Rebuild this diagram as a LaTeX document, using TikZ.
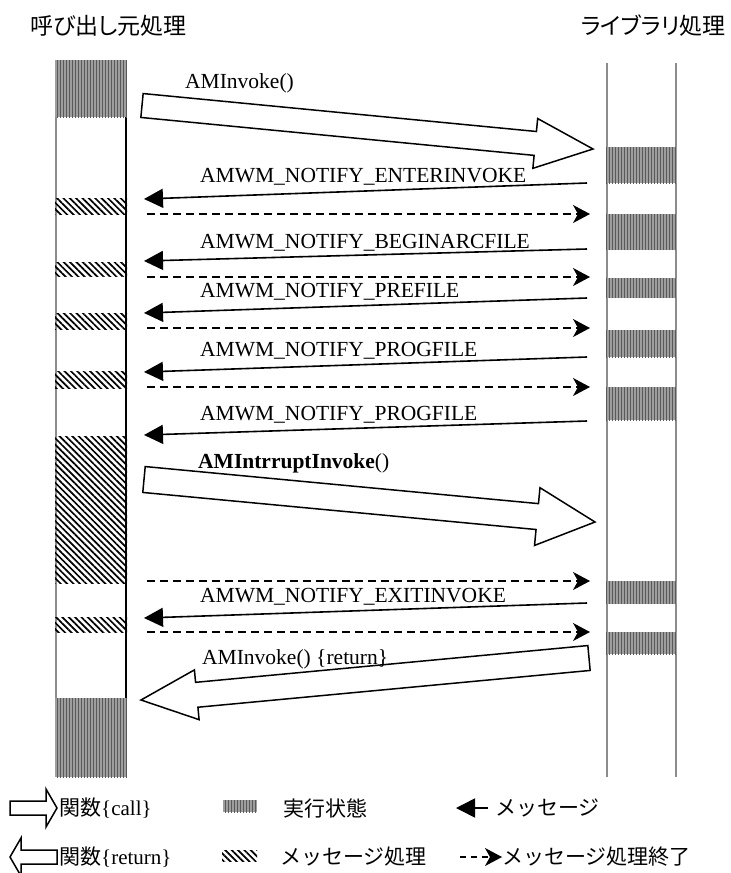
\documentclass[tikz,border=0pt]{standalone}
\usepackage{fontspec}
\setmainfont{Liberation Serif}
\newfontfamily\jpfont{Noto Sans CJK JP}
\newfontfamily\jphead{Noto Sans CJK JP}[RawFeature=+palt]
\usetikzlibrary{arrows.meta,calc,patterns.meta}

\newcommand{\fatarrow}[5]{%
  \coordinate (hb) at ($(#2)!#5!(#1)$);
  \draw[fat] ($(#1)!#3!90:(#2)$) -- ($(hb)!#3!90:(#2)$) -- ($(hb)!#4!90:(#2)$)
    -- (#2) -- ($(hb)!#4!-90:(#2)$) -- ($(hb)!#3!-90:(#2)$)
    -- ($(#1)!#3!-90:(#2)$) -- cycle;
}

\begin{document}
\begin{tikzpicture}[
x=1pt,y=-1pt,
lifeline/.style={draw=black!45,line width=1.2pt},
execbox/.style={fill=black!38,postaction={pattern={Lines[angle=90,distance=3pt,line width=0.8pt]},pattern color=black!65}},
msgbox/.style={pattern={Lines[angle=-45,distance=4.5pt,line width=1.7pt]}},
msg/.style={line width=1.6pt,-{Triangle[length=19pt,width=19pt]}},
done/.style={line width=1.3pt,dash pattern=on 8pt off 5pt,-{Stealth[length=17pt,width=18pt,inset=5pt]}},
fat/.style={draw,line width=1.5pt,fill=white,line join=miter},
txt/.style={font=\fontsize{21.5}{24}\selectfont,inner sep=0pt},
jp/.style={font=\jpfont\fontsize{21}{24}\selectfont,inner sep=0pt},
head/.style={font=\jphead\fontsize{23}{26}\selectfont,inner sep=0pt}
]
\useasboundingbox (0,0) rectangle (731,873);

\node[head,anchor=west] (hcaller) at (30,26) {呼び出し元処理};
\node[head,anchor=east] (hlib) at (726,26) {ライブラリ処理};

% lifelines
\draw[lifeline] (56,60) -- (56,777);
\draw[line width=1.2pt] (126,60) -- (126,777);
\draw[lifeline] (607,63) -- (607,777);
\draw[lifeline] (676,63) -- (676,777);

\foreach \ya/\yb in {60/117,698/777}
  \fill[execbox] (55,\ya) rectangle (127,\yb);
\foreach \ya/\yb in {147/183,214/250,278/298,330/357,387/420,581/604,632/654}
  \fill[execbox] (606,\ya) rectangle (677,\yb);
\foreach \ya/\yb in {198/214,262/276,313/329,371/388,436/583,617/632}
  \fill[msgbox] (55,\ya) rectangle (127,\yb);

% messages
\foreach \lbl/\ya/\yb [count=\i] in {ENTERINVOKE/183/199,BEGINARCFILE/249/261,PREFILE/298/313,PROGFILE/357/372,PROGFILE/421/435,EXITINVOKE/603/618}{
  \coordinate (m\i) at (587,\ya);
  \coordinate (n\i) at (144,\yb);
  \draw[msg] (m\i) -- (n\i);
  \node[txt,anchor=base west] (l\i) at (200,\ya-1) {AMWM\_NOTIFY\_\lbl};
}
\foreach \y [count=\i] in {214,277,328,387,581,632}{
  \coordinate (d\i) at (147,\y);
  \coordinate (e\i) at (590,\y);
  \draw[done] (d\i) -- (e\i);
}

% calls
\coordinate (c1) at (142,105.5);
\coordinate (c1t) at (593,149);
\fatarrow{c1}{c1t}{12pt}{25pt}{58pt}
\node[txt,anchor=base west] (lc1) at (185,88) {AMInvoke()};

\coordinate (c2) at (144,479.5);
\coordinate (c2t) at (595,522);
\fatarrow{c2}{c2t}{13pt}{29pt}{58pt}
\node[txt,anchor=base west] (lc2) at (198,468) {\bfseries AMIntrruptInvoke\mdseries()};

\coordinate (r1) at (589,658);
\coordinate (r1t) at (141,700);
\fatarrow{r1}{r1t}{12.5pt}{25pt}{56pt}
\node[txt,anchor=base west] (lr1) at (202,664) {AMInvoke() \{return\}};

% legend
\coordinate (k1) at (10,808);
\coordinate (k1t) at (57,808);
\fatarrow{k1}{k1t}{7pt}{19pt}{11pt}
\node[jp,anchor=west] (kl1) at (59,808) {関数{\rmfamily\{call\}}};
\fill[execbox] (223,800) rectangle (257,812);
\node[jp,anchor=west] (kl2) at (283,808) {実行状態};
\coordinate (k2) at (488,808);
\coordinate (k2t) at (456,808);
\draw[msg] (k2) -- (k2t);
\node[jp,anchor=west] (kl3) at (495,808) {メッセージ};

\coordinate (k3) at (57,857);
\coordinate (k3t) at (10,857);
\fatarrow{k3}{k3t}{7pt}{19pt}{11pt}
\node[jp,anchor=west] (kl4) at (59,857) {関数{\rmfamily\{return\}}};
\fill[msgbox] (222,850) rectangle (257,861);
\node[jp,anchor=west] (kl5) at (280,857) {メッセージ処理};
\coordinate (k4) at (460,857);
\coordinate (k4t) at (502,857);
\draw[done,dash pattern=on 6pt off 5pt] (k4) -- (k4t);
\node[jp,anchor=west] (kl6) at (502,857) {メッセージ処理終了};
\end{tikzpicture}
\end{document}
